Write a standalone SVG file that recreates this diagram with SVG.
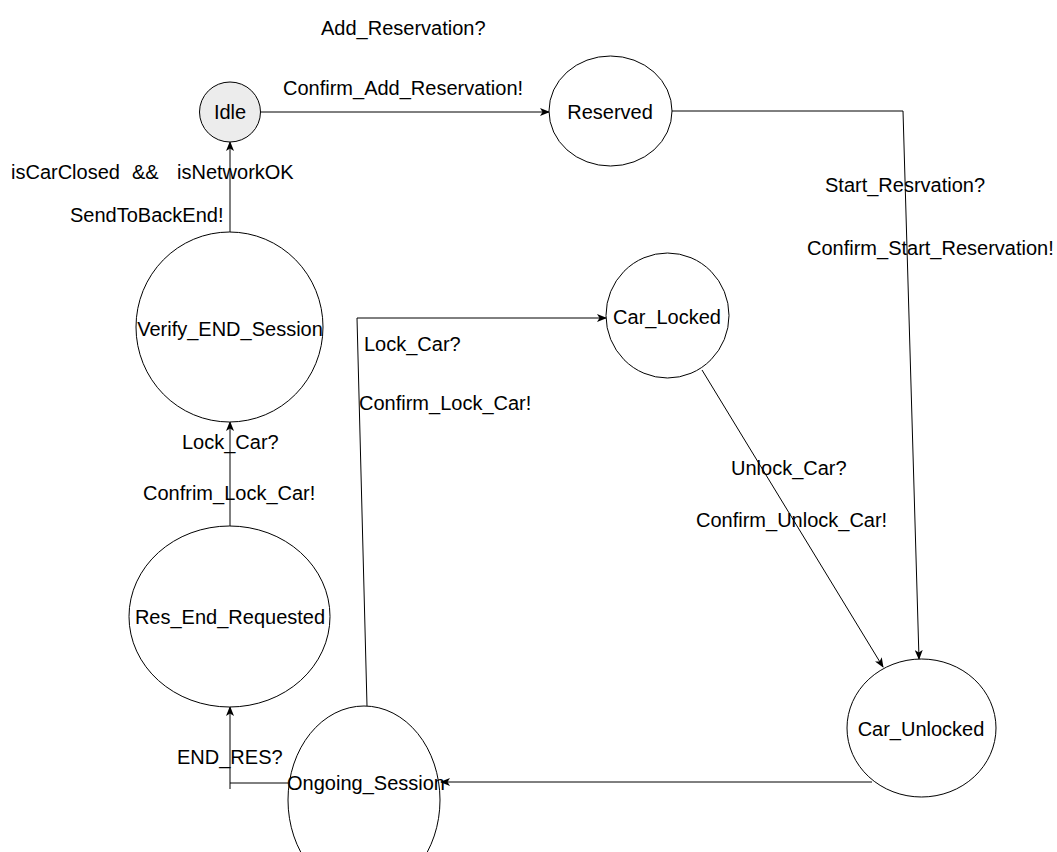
<svg xmlns="http://www.w3.org/2000/svg" width="1057" height="852" viewBox="0 0 1057 852">
  <style>
    .node { fill: #ffffff; stroke: #000000; stroke-width: 1; }
    .start { fill: #ececec; }
    .lbl { font-family: "Liberation Sans", Arial, sans-serif; font-size: 20px; fill: #000000; }
    .mid { text-anchor: middle; }
    .edge { fill: none; stroke: #000000; stroke-width: 1; }
  </style>
  <defs>
    <marker id="arr" viewBox="0 0 10 8" refX="9" refY="4" markerWidth="10" markerHeight="8" markerUnits="userSpaceOnUse" orient="auto">
      <path d="M0,0 L10,4 L0,8 L2.5,4 z" fill="#000000"/>
    </marker>
  </defs>
  <rect width="1057" height="852" fill="#ffffff"/>

  <g id="connectors">
    <path class="edge" d="M260,112 L549,112" marker-end="url(#arr)"/>
    <path class="edge" d="M672,111 L903,111 L919,659" marker-end="url(#arr)"/>
    <path class="edge" d="M702,370 L883,667" marker-end="url(#arr)"/>
    <path class="edge" d="M872,782 L441,782" marker-end="url(#arr)"/>
    <path class="edge" d="M367,706 L357,318 L606,318" marker-end="url(#arr)"/>
    <path class="edge" d="M288,783 L230,783 L230,707" marker-end="url(#arr)"/>
    <path class="edge" d="M230,783 L230,789"/>
    <path class="edge" d="M230,526 L230,422" marker-end="url(#arr)"/>
    <path class="edge" d="M230,232 L230,142" marker-end="url(#arr)"/>
  </g>

  <g id="edge-labels">
    <text class="lbl" x="321" y="35">Add_Reservation?</text>
    <text class="lbl" x="283" y="95">Confirm_Add_Reservation!</text>
    <text class="lbl" x="11" y="179">isCarClosed</text>
    <text class="lbl" x="132" y="179">&amp;&amp;</text>
    <text class="lbl" x="177" y="179">isNetworkOK</text>
    <text class="lbl" x="70" y="222">SendToBackEnd!</text>
    <text class="lbl" x="825" y="192">Start_Resrvation?</text>
    <text class="lbl" x="807" y="255">Confirm_Start_Reservation!</text>
    <text class="lbl" x="364" y="351">Lock_Car?</text>
    <text class="lbl" x="359" y="410">Confirm_Lock_Car!</text>
    <text class="lbl" x="182" y="449">Lock_Car?</text>
    <text class="lbl" x="143" y="500">Confrim_Lock_Car!</text>
    <text class="lbl" x="731" y="475">Unlock_Car?</text>
    <text class="lbl" x="696" y="527">Confirm_Unlock_Car!</text>
    <text class="lbl" x="177" y="764">END_RES?</text>
  </g>

  <g id="Idle">
    <ellipse class="node start" cx="230" cy="112" rx="30.5" ry="30"/>
    <text class="lbl mid" x="230" y="119">Idle</text>
  </g>
  <g id="Reserved">
    <ellipse class="node" cx="610.5" cy="111" rx="61.5" ry="55"/>
    <text class="lbl mid" x="610" y="119">Reserved</text>
  </g>
  <g id="Verify_END_Session">
    <ellipse class="node" cx="229.5" cy="327" rx="93.5" ry="95"/>
    <text class="lbl mid" x="230" y="336">Verify_END_Session</text>
  </g>
  <g id="Res_End_Requested">
    <ellipse class="node" cx="229.5" cy="616.5" rx="100.5" ry="90.5"/>
    <text class="lbl mid" x="230" y="624">Res_End_Requested</text>
  </g>
  <g id="Car_Locked">
    <ellipse class="node" cx="667.5" cy="315.5" rx="61.5" ry="62.5"/>
    <text class="lbl mid" x="667" y="324">Car_Locked</text>
  </g>
  <g id="Car_Unlocked">
    <ellipse class="node" cx="921.5" cy="728" rx="74.5" ry="69"/>
    <text class="lbl mid" x="921" y="736">Car_Unlocked</text>
  </g>
  <g id="Ongoing_Session">
    <ellipse class="node" cx="364" cy="800" rx="76" ry="94"/>
    <text class="lbl mid" x="366" y="790">Ongoing_Session</text>
  </g>
</svg>
